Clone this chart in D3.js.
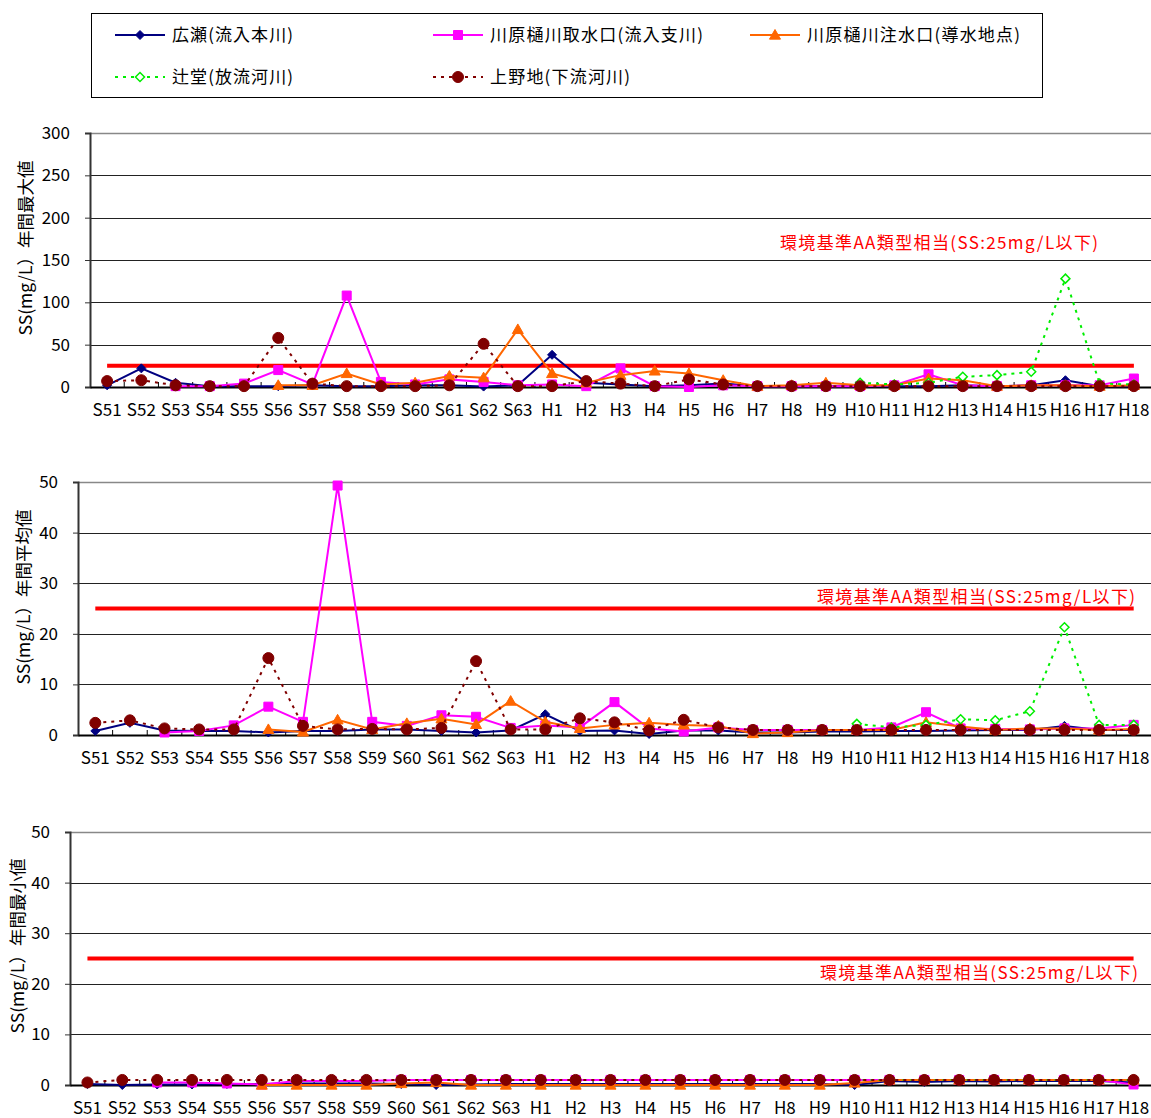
<!DOCTYPE html>
<html><head><meta charset="utf-8">
<script src="https://cdn.jsdelivr.net/npm/d3@7"></script>
<style>
body{margin:0;background:#fff;}
svg{display:block;font-family:"Noto Sans CJK JP","Noto Sans",sans-serif;}
</style>
</head><body>
<svg id="c" width="1151" height="1118"></svg>
<script>
// ---------------- DATA ----------------
const categories = ["S51","S52","S53","S54","S55","S56","S57","S58","S59","S60","S61","S62","S63",
  "H1","H2","H3","H4","H5","H6","H7","H8","H9","H10","H11","H12","H13","H14","H15","H16","H17","H18"];
const seriesNames = ["広瀬(流入本川)","川原樋川取水口(流入支川)","川原樋川注水口(導水地点)","辻堂(放流河川)","上野地(下流河川)"];
const _ = null;
// 年間最大値
const hiroseMax  = [2,22,5,1,1,1,2,1,1,2,2,0.5,2, 38,5,3,1,2,4,1,1,1,1,1,1,2,1,2,8,1,1];
const intakeMax  = [_,_,1,1,4,20,3,108,6,3,9,6,2, 3,1,22,1,0,2,1,1,1,1,2,15,2,1,2,2,2,10];
const outletMax  = [_,_,_,_,_,2,2,16,3,5,13,11,68, 16,5,14,19,16,8,1,2,5,2,2,10,8,1,2,2,1,2];
const tsujidoMax = [_,_,_,_,_,_,_,_,_,_,_,_,_, _,_,_,_,_,_,_,_,_,5,3,5,12,14,18,128,4,3];
const uenojiMax  = [7,8,2,1,1,58,4,1,1,1,2,51,1, 1,7,4,1,9,3,1,1,1,1,1,1,1,1,1,1,1,1];
// 年間平均値
const hiroseMean  = [0.8,2.4,0.9,0.8,0.8,0.5,0.8,0.8,1.1,1.1,0.8,0.5,0.9, 4.1,0.8,0.9,0.2,0.9,0.9,0.5,0.5,0.7,0.7,0.8,0.8,0.9,1.0,1.0,1.8,1.0,1.0];
const intakeMean  = [_,_,0.5,0.8,1.9,5.6,2.6,49.3,2.6,1.8,3.9,3.6,1.4, 1.9,1.5,6.5,1.3,0.7,1.5,1.0,1.0,1.0,1.0,1.5,4.5,1.3,1.2,1.1,1.3,1.3,2.0];
const outletMean  = [_,_,_,_,_,1.1,0.6,3.0,1.1,2.3,3.2,2.1,6.7, 2.6,1.3,2.0,2.4,2.0,1.8,0.3,0.5,1.0,1.0,1.0,2.5,1.7,1.0,1.3,1.3,1.0,1.2];
const tsujidoMean = [_,_,_,_,_,_,_,_,_,_,_,_,_, _,_,_,_,_,_,_,_,_,2.2,1.5,2.0,3.1,2.9,4.7,21.3,2.0,2.0];
const uenojiMean  = [2.4,2.9,1.3,1.1,1.1,15.2,1.8,1.1,1.2,1.1,1.4,14.6,1.1, 1.1,3.3,2.5,0.9,3.0,1.5,1.0,1.0,1.0,1.0,1.0,1.0,1.0,1.0,1.0,1.0,1.0,1.0];
// 年間最小値
const hiroseMin  = [0.2,0,0.1,0.1,0.2,0.2,0.3,0.3,0.3,0.2,0,0.1,0.2, 0.2,0.2,0.2,0.2,0.2,0.2,0.2,0.2,0.2,0,0.8,0.6,0.8,0.7,0.8,0.8,0.8,0.5];
const intakeMin  = [_,_,0.5,0.5,0.3,0.1,0.8,0.8,0.8,1,1,1,1, 1,1,1,1,1,1,1,1,1,1,1,1,1,1,1,1,1,0.1];
const outletMin  = [_,_,_,_,_,0,0,0,0,0.3,0.5,0,0, 0,0,0,0,0,0,0,0,0,0.4,1,1,1,1,1,1,1,1];
const tsujidoMin = [_,_,_,_,_,_,_,_,_,_,_,_,_, _,_,_,_,_,_,_,_,_,1,1,1,1,1,1,1,1,1];
const uenojiMin  = [0.5,1,1,1,1,1,1,1,1,1,1,1,1, 1,1,1,1,1,1,1,1,1,1,1,1,1,1,1,1,1,1];

const standardValue = 25;
const standardLabel = "環境基準AA類型相当(SS:25mg/L以下)";
const yTitles = ["SS(mg/L）年間最大値","SS(mg/L）年間平均値","SS(mg/L）年間最小値"];
const yTicksMax = [0,50,100,150,200,250,300];
const yTicksMean = [0,10,20,30,40,50];
const yTicksMin = [0,10,20,30,40,50];

// ---------------- STYLE ----------------
const styles = [
  {color:"#000080", dash:null, shape:"diamond", size:4.5, fill:true},
  {color:"#FF00FF", dash:null, shape:"square", size:4.5, fill:true},
  {color:"#FF6600", dash:null, shape:"triangle", size:5.5, fill:true},
  {color:"#00EE00", dash:"3,5", shape:"diamond", size:4.5, fill:false},
  {color:"#800000", dash:"3,5", shape:"circle", size:5.5, fill:true}
];
const legendTextLen = [121, 213, 213, 121, 140];

function shapePath(shape, r){
  if(shape==="diamond") return `M0,${-r}L${r},0L0,${r}L${-r},0Z`;
  if(shape==="square") return `M${-r},${-r}H${r}V${r}H${-r}Z`;
  if(shape==="triangle") return `M0,${-r}L${r},${r*0.75}L${-r},${r*0.75}Z`;
  return d3.symbol(d3.symbolCircle, Math.PI*r*r)();
}

const svg = d3.select("#c");
const font = "\"Noto Sans CJK JP\",\"Noto Sans\",sans-serif";

// ---------------- LEGEND ----------------
const legend = svg.append("g");
legend.append("rect").attr("x",91.5).attr("y",13.5).attr("width",951).attr("height",84)
  .attr("fill","#fff").attr("stroke","#000").attr("stroke-width",1);
const legendPos = [[115,35],[433,35],[750,35],[115,77],[433,77]];
seriesNames.forEach((name,i)=>{
  const [lx,ly] = legendPos[i], s = styles[i];
  const g = legend.append("g");
  g.append("line").attr("x1",lx).attr("x2",lx+50).attr("y1",ly).attr("y2",ly)
    .attr("stroke",s.color).attr("stroke-width",2).attr("stroke-dasharray",s.dash);
  g.append("path").attr("d",shapePath(s.shape,s.size)).attr("transform",`translate(${lx+25},${ly})`)
    .attr("fill",s.fill?s.color:"#fff").attr("stroke",s.color).attr("stroke-width",s.fill?1:1.5);
  g.append("text").attr("x",lx+57).attr("y",ly).attr("dy","0.36em")
    .attr("font-size",17).attr("fill","#000")
    .attr("textLength",legendTextLen[i]).attr("lengthAdjust","spacing").text(name);
});

// ---------------- CHARTS ----------------
const charts = [
  {series:[hiroseMax,intakeMax,outletMax,tsujidoMax,uenojiMax], ticks:yTicksMax, max:300,
   x0:90, x1:1151, top:133, bottom:387, title:yTitles[0], titleX:26, titleY:248, labelX:780, labelY:243},
  {series:[hiroseMean,intakeMean,outletMean,tsujidoMean,uenojiMean], ticks:yTicksMean, max:50,
   x0:78, x1:1151, top:482, bottom:735, title:yTitles[1], titleX:24, titleY:597, labelX:817, labelY:597},
  {series:[hiroseMin,intakeMin,outletMin,tsujidoMin,uenojiMin], ticks:yTicksMin, max:50,
   x0:70, x1:1151, top:832, bottom:1085, title:yTitles[2], titleX:18, titleY:946, labelX:820, labelY:973}
];

charts.forEach(ch=>{
  const g = svg.append("g");
  const x = d3.scaleBand().domain(categories).range([ch.x0, ch.x1]).paddingInner(0).paddingOuter(0);
  const y = d3.scaleLinear().domain([0, ch.max]).range([ch.bottom, ch.top]);
  const cx = c => x(c) + x.bandwidth()/2;

  // gridlines
  g.append("g").selectAll("line").data(ch.ticks.filter(t=>t>0)).join("line")
    .attr("x1",ch.x0).attr("x2",ch.x1).attr("y1",d=>Math.round(y(d))+0.5).attr("y2",d=>Math.round(y(d))+0.5)
    .attr("stroke",d=>d===ch.max?"#888":"#222").attr("stroke-width",d=>d===ch.max?1.5:1);

  // y axis
  const ya = g.append("g").attr("transform",`translate(${ch.x0},0)`)
    .call(d3.axisLeft(y).tickValues(ch.ticks).tickSize(5).tickPadding(15).tickFormat(d3.format("d")));
  ya.select(".domain").attr("stroke","#333").attr("stroke-width",2);
  ya.selectAll(".tick line").attr("stroke","#333");
  ya.selectAll("text").attr("font-size",17).attr("font-family",font).attr("fill","#000");

  // x axis
  const xa = g.append("g").attr("transform",`translate(0,${ch.bottom})`)
    .call(d3.axisBottom(x).tickSize(0).tickPadding(17));
  xa.select(".domain").attr("stroke","#000").attr("stroke-width",2);
  xa.selectAll("text").attr("font-size",17).attr("font-family",font).attr("fill","#000");
  g.append("g").selectAll("line").data(categories.slice(1)).join("line")
    .attr("x1",d=>x(d)).attr("x2",d=>x(d)).attr("y1",ch.bottom).attr("y2",ch.bottom-5)
    .attr("stroke","#000").attr("stroke-width",1);

  // y title
  g.append("text").attr("transform",`translate(${ch.titleX},${ch.titleY}) rotate(-90)`)
    .attr("text-anchor","middle").attr("dy","0.36em").attr("font-size",17.5).attr("fill","#000").text(ch.title);

  // standard line
  const stdLine = d3.line().x(d=>cx(d)).y(()=>y(standardValue));
  g.append("path").attr("d",stdLine(categories)).attr("stroke","#FF0000").attr("stroke-width",4).attr("fill","none");
  g.append("text").attr("x",ch.labelX).attr("y",ch.labelY).attr("dy","0.36em")
    .attr("font-size",17).attr("fill","#FF0000")
    .attr("textLength",318).attr("lengthAdjust","spacing").text(standardLabel);

  // series
  ch.series.forEach((vals,i)=>{
    const s = styles[i];
    const pts = categories.map((c,k)=>({c, v:vals[k]}));
    const line = d3.line().defined(d=>d.v!=null).x(d=>cx(d.c)).y(d=>y(d.v));
    g.append("path").attr("d",line(pts)).attr("fill","none").attr("stroke",s.color)
      .attr("stroke-width",2).attr("stroke-dasharray",s.dash);
    g.append("g").selectAll("path").data(pts.filter(d=>d.v!=null)).join("path")
      .attr("d",shapePath(s.shape,s.size))
      .attr("transform",d=>`translate(${cx(d.c)},${y(d.v)})`)
      .attr("fill",s.fill?s.color:"#fff").attr("stroke",s.color).attr("stroke-width",s.fill?1:1.5);
  });
});
</script>
</body></html>
